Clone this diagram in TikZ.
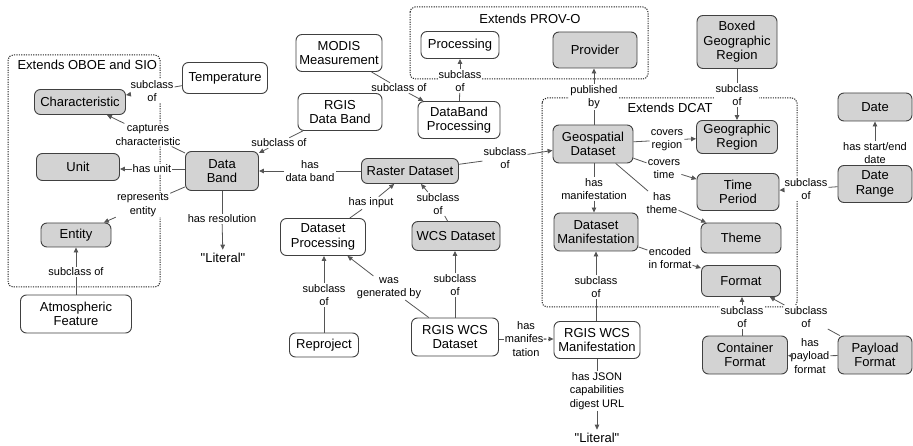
\documentclass[tikz,border=0pt]{standalone}
\usepackage{fontspec}
\setmainfont{Liberation Sans}[Ligatures=TeXOff]
\usepackage{xcolor}
\usetikzlibrary{arrows.meta}
\definecolor{classgray}{RGB}{211,211,211}
\definecolor{edgegray}{RGB}{85,85,85}

\begin{document}
\begin{tikzpicture}[x=1pt,y=-1pt,
    cls/.style={draw=black!75,line width=0.9pt,rounded corners=6pt,align=center,inner sep=2pt,font=\fontsize{13}{14.5}\selectfont},
    gcls/.style={cls,fill=classgray},
    wcls/.style={cls,fill=white},
    wh/.style 2 args={minimum width=#1,minimum height=#2},
    lbl/.style={align=center,fill=white,inner sep=1pt,font=\fontsize{11}{13.5}\selectfont},
    literal/.style={font=\fontsize{13}{14.5}\selectfont},
    grptitle/.style={font=\fontsize{13}{14.5}\selectfont},
    link/.style={draw=edgegray,line width=0.8pt},
    arr/.style={link,-{Triangle[length=5pt,width=4.5pt]}},
    grp/.style={draw=black!85,dash pattern=on 1.2pt off 1.2pt,line width=1pt,rounded corners=5pt}]

  \useasboundingbox (0,0) rectangle (913,446);

  \draw[grp] (8,55) rectangle (160,287);
  \draw[grp] (410,7) rectangle (648,79);
  \draw[grp] (542,98) rectangle (797,307);
  \node[grptitle,anchor=west] (toboe) at (14,65) {Extends OBOE and SIO};
  \node[grptitle] (tprov) at (530,19) {Extends PROV-O};
  \node[grptitle] (tdcat) at (670,108) {Extends DCAT};

  \node[wcls,wh={85pt}{31pt}] (temp) at (225,78) {Temperature};
  \node[gcls,wh={91pt}{25pt}] (chr) at (80,102) {Characteristic};
  \node[gcls,wh={83pt}{27pt}] (unit) at (78,167) {Unit};
  \node[gcls,wh={73pt}{39pt}] (band) at (222,171) {Data\\Band};
  \node[gcls,wh={70pt}{24pt}] (ent) at (76,235) {Entity};
  \node[wcls,wh={111pt}{38pt}] (atm) at (76,314) {Atmospheric\\Feature};
  \node[literal] (lit1) at (223,258) {"Literal"};
  \node[wcls,wh={86pt}{37pt}] (modis) at (339,53) {MODIS\\Measurement};
  \node[wcls,wh={84pt}{37pt}] (rband) at (340,112) {RGIS\\Data Band};
  \node[wcls,wh={78pt}{27pt}] (proc) at (460,45) {Processing};
  \node[wcls,wh={82pt}{37pt}] (dbproc) at (459,120) {DataBand\\Processing};
  \node[gcls,wh={97pt}{25pt}] (raster) at (410,171) {Raster Dataset};
  \node[gcls,wh={84pt}{36pt}] (prov) at (595,50) {Provider};
  \node[gcls,wh={80pt}{53pt}] (bgr) at (737,42) {Boxed\\Geographic\\Region};
  \node[gcls,wh={81pt}{33pt}] (geo) at (737,137) {Geographic\\Region};
  \node[gcls,wh={80pt}{38pt}] (gsd) at (593,144) {Geospatial\\Dataset};
  \node[gcls,wh={74pt}{28pt}] (date) at (875,107) {Date};
  \node[gcls,wh={74pt}{37pt}] (drange) at (875,184) {Date\\Range};
  \node[gcls,wh={82pt}{37pt}] (time) at (738,192) {Time\\Period};
  \node[gcls,wh={84pt}{38pt}] (dman) at (596,232) {Dataset\\Manifestation};
  \node[gcls,wh={80pt}{30pt}] (theme) at (741,238) {Theme};
  \node[gcls,wh={79pt}{31pt}] (fmt) at (741,281) {Format};
  \node[wcls,wh={86pt}{37pt}] (rman) at (597,340) {RGIS WCS\\Manifestation};
  \node[gcls,wh={85pt}{38pt}] (cfmt) at (745,355) {Container\\Format};
  \node[gcls,wh={74pt}{38pt}] (pfmt) at (875,355) {Payload\\Format};
  \node[literal] (lit2) at (597,438) {"Literal"};
  \node[wcls,wh={85pt}{37pt}] (dproc) at (323,237) {Dataset\\Processing};
  \node[gcls,wh={88pt}{29pt}] (wcs) at (456,236) {WCS Dataset};
  \node[wcls,wh={69pt}{24pt}] (repr) at (324,345) {Reproject};
  \node[wcls,wh={87pt}{38pt}] (rwcs) at (455,337) {RGIS WCS\\Dataset};

  \node[lbl] (ltemp) at (152,91) {subclass\\of};
  \node[lbl] (lcapt) at (148,135) {captures\\characteristic};
  \node[lbl] (lunit) at (152,169) {has unit};
  \node[lbl] (lrep) at (143,205) {represents\\entity};
  \node[lbl] (lres) at (222,219) {has resolution};
  \node[lbl] (latm) at (76,272) {subclass of};
  \node[lbl] (lrband) at (279,143) {subclass of};
  \node[lbl] (lmodis) at (399,88) {subclass of};
  \node[lbl] (ldbp) at (460,81) {subclass\\of};
  \node[lbl] (lband) at (310,171) {has\\data band};
  \node[lbl] (lraster) at (505,158) {subclass\\of};
  \node[lbl] (linput) at (371,203) {has input};
  \node[lbl] (lwcs) at (438,204) {subclass\\of};
  \node[lbl] (lrepr) at (324,295) {subclass\\of};
  \node[lbl] (lgen) at (389,288) {was\\generated by};
  \node[lbl] (lrwcs) at (455,285) {subclass\\of};
  \node[lbl] (lman) at (526,339) {has\\manifes-\\tation};
  \node[lbl] (lrman) at (596,287) {subclass\\of};
  \node[lbl] (ljson) at (597,391) {has JSON\\capabilities\\digest URL};
  \node[lbl] (lpub) at (594,97) {published\\by};
  \node[lbl] (lregion) at (667,140) {covers\\region};
  \node[lbl] (ltime) at (664,169) {covers\\time};
  \node[lbl] (lhman) at (594,189) {has\\manifestation};
  \node[lbl] (ltheme) at (662,203) {has\\theme};
  \node[lbl] (lbgr) at (737,95) {subclass\\of};
  \node[lbl] (ldate) at (875,153) {has start/end\\date};
  \node[lbl] (ldrange) at (806,189) {subclass\\of};
  \node[lbl] (lenc) at (670,258) {encoded\\in format};
  \node[lbl] (lcfmt) at (742,317) {subclass\\of};
  \node[lbl] (lpfmt) at (806,317) {subclass\\of};
  \node[lbl] (lpay) at (810,356) {has\\payload\\format};

  \draw[link] (temp) -- (ltemp);
  \draw[arr] (ltemp) -- (chr);
  \draw[link] (band) -- (lcapt);
  \draw[arr] (lcapt) -- ([xshift=-19pt]chr.south east);
  \draw[link] (band.west |- lunit) -- (lunit);
  \draw[arr] (lunit) -- (unit.east |- lunit);
  \draw[link] (band) -- (lrep);
  \draw[arr] (lrep) -- (ent);
  \draw[link] (band) -- (lres);
  \draw[arr] (lres) -- (lit1);
  \draw[link] (atm) -- (latm);
  \draw[arr] (latm) -- (ent);
  \draw[link] (rband) -- (lrband);
  \draw[arr] (lrband) -- (band);
  \draw[link] (modis) -- (lmodis);
  \draw[arr] (lmodis) -- (dbproc);
  \draw[link] (dbproc) -- (ldbp);
  \draw[arr] (ldbp) -- (proc);
  \draw[link] (raster) -- (lband);
  \draw[arr] (lband) -- (band.east |- lband);
  \draw[link] (raster) -- (lraster);
  \draw[arr] (lraster) -- (gsd);
  \draw[link] (dproc) -- (linput);
  \draw[arr] (linput) -- (raster);
  \draw[link] (wcs) -- (lwcs);
  \draw[arr] (lwcs) -- (raster);
  \draw[link] (repr) -- (lrepr);
  \draw[arr] (lrepr) -- (dproc.south -| lrepr);
  \draw[link] (rwcs) -- (lgen);
  \draw[arr] (lgen) -- (dproc);
  \draw[link] (rwcs.north -| lrwcs) -- (lrwcs);
  \draw[arr] (lrwcs) -- (wcs.south -| lrwcs);
  \draw[link] (rwcs.east |- lman) -- (lman);
  \draw[arr] (lman) -- (rman.west |- lman);
  \draw[link] (rman.north -| lrman) -- (lrman);
  \draw[arr] (lrman) -- (dman.south -| lrman);
  \draw[link] (rman) -- (ljson);
  \draw[arr] (ljson) -- (lit2);
  \draw[link] (gsd.north -| lpub) -- (lpub);
  \draw[arr] (lpub) -- (prov.south -| lpub);
  \draw[link] (gsd) -- (lregion);
  \draw[arr] (lregion) -- (geo);
  \draw[link] (gsd) -- (ltime);
  \draw[arr] (ltime) -- (time);
  \draw[link] (gsd.south -| lhman) -- (lhman);
  \draw[arr] (lhman) -- (dman.north -| lhman);
  \draw[link] (gsd) -- (ltheme);
  \draw[arr] (ltheme) -- (theme);
  \draw[link] (bgr) -- (lbgr);
  \draw[arr] (lbgr) -- (geo);
  \draw[link] (drange) -- (ldate);
  \draw[arr] (ldate) -- (date);
  \draw[link] (drange) -- (ldrange);
  \draw[arr] (ldrange) -- (time);
  \draw[link] (dman) -- (lenc);
  \draw[arr] (lenc) -- (fmt);
  \draw[link] (cfmt.north -| lcfmt) -- (lcfmt);
  \draw[arr] (lcfmt) -- (fmt.south -| lcfmt);
  \draw[link] (pfmt) -- (lpfmt);
  \draw[arr] (lpfmt) -- (fmt);
  \draw[link] (pfmt) -- (lpay);
  \draw[arr] (lpay) -- (cfmt);
\end{tikzpicture}
\end{document}
